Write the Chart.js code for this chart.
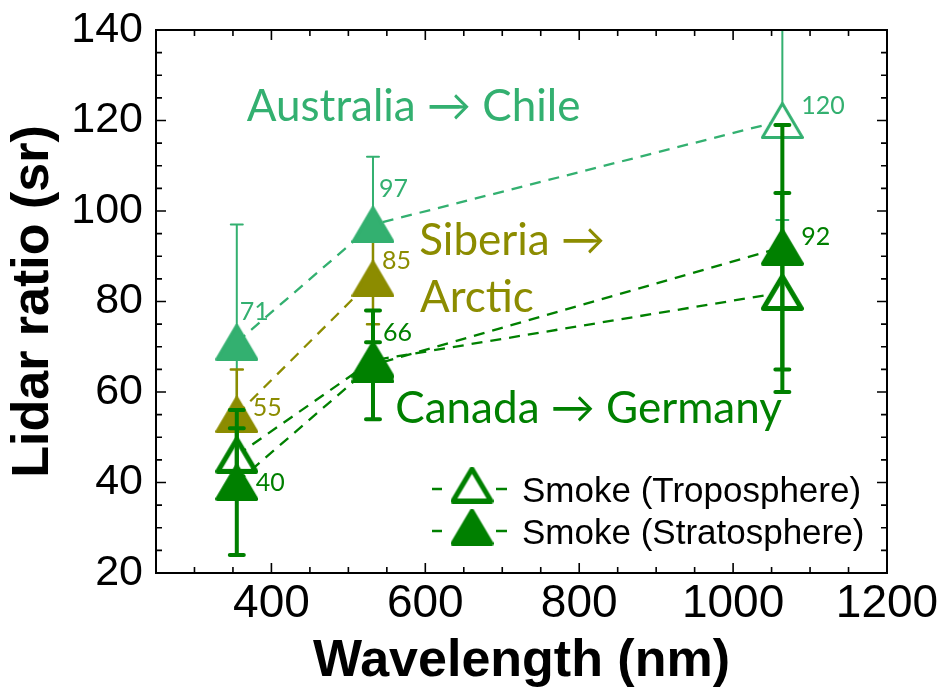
<!DOCTYPE html>
<html>
<head>
<meta charset="utf-8">
<script src="https://cdn.jsdelivr.net/npm/chart.js@4.4.0/dist/chart.umd.min.js"></script>
<style>
  html, body { margin: 0; padding: 0; background: #fff; }
  #wrap { width: 940px; height: 688px; }
</style>
</head>
<body>
<div id="wrap"><canvas id="chart" width="940" height="688"></canvas></div>
<script>
// wavelengths (nm)
const wavelengths = [355, 532, 1064];
const siberiaWavelengths = [355, 532];

// lidar ratios (sr) and their uncertainties
const australiaValues = [71, 97, 120];
const australiaErrors = [26, 15, 22];
const australiaOpen = [false, false, true];

const siberiaValues = [55, 85];
const siberiaErrors = [10, 10];
const siberiaOpen = [false, false];

const canadaStratValues = [40, 66, 92];
const canadaStratErrors = [16, 12, 27];
const canadaStratOpen = [false, false, false];

const canadaTropoValues = [46, 67, 82];
const canadaTropoErrors = [6, 4, 22];
const canadaTropoOpen = [true, true, true];

const xTickValues = [400, 600, 800, 1000, 1200];
const yTickValues = [20, 40, 60, 80, 100, 120, 140];

const legendLabels = ['Smoke (Troposphere)', 'Smoke (Stratosphere)'];

// where the value labels sit, relative to the point (px)
const australiaLabelOffsets = [[3, -30], [6, -36], [19, -15]];
const siberiaLabelOffsets = [[16, -7], [9, -18]];
const canadaStratLabelOffsets = [[19, 0], [10, -32], [19, -10]];

const LIGHT = '#33b070';
const OLIVE = '#8c8c00';
const DARK = '#008000';

const SANS = "'Liberation Sans', Arial, sans-serif";
const SOFT = "Lato, 'Open Sans', sans-serif";

const annotations = [
    { text: 'Australia \u2192 Chile', x: 368, y: 119.9, color: LIGHT },
    { text: 'Siberia \u2192', x: 592, y: 90.3, color: OLIVE },
    { text: 'Arctic', x: 593, y: 77.7, color: OLIVE },
    { text: 'Canada \u2192 Germany', x: 561, y: 53.1, color: DARK }
];

function makeTriangle(color, filled, lw) {
    const c = document.createElement('canvas');
    c.width = 43;
    c.height = 37;
    const ctx = c.getContext('2d');
    const h = lw / 2;
    ctx.beginPath();
    ctx.moveTo(c.width / 2, h);
    ctx.lineTo(c.width - h, c.height - h);
    ctx.lineTo(h, c.height - h);
    ctx.closePath();
    ctx.lineJoin = 'round';
    ctx.lineWidth = lw;
    ctx.fillStyle = filled ? color : '#fff';
    ctx.fill();
    ctx.strokeStyle = color;
    ctx.stroke();
    return c;
}

const series = [
    { xs: wavelengths, ys: australiaValues, err: australiaErrors, open: australiaOpen, color: LIGHT,
      barWidth: 2, cap: 6, marker: 3, onTop: false, order: 4, labels: australiaLabelOffsets },
    { xs: siberiaWavelengths, ys: siberiaValues, err: siberiaErrors, open: siberiaOpen, color: OLIVE,
      barWidth: 2.5, cap: 6, marker: 3, onTop: false, order: 3, labels: siberiaLabelOffsets },
    { xs: wavelengths, ys: canadaTropoValues, err: canadaTropoErrors, open: canadaTropoOpen, color: DARK,
      barWidth: 4, cap: 7, marker: 5, onTop: true, order: 2, labels: null },
    { xs: wavelengths, ys: canadaStratValues, err: canadaStratErrors, open: canadaStratOpen, color: DARK,
      barWidth: 4, cap: 7, marker: 4, onTop: true, order: 1, labels: canadaStratLabelOffsets }
];

function drawBars(chart, i) {
    const s = series[i];
    const { ctx, chartArea: a, scales: { x, y } } = chart;
    ctx.save();
    ctx.beginPath();
    ctx.rect(a.left, a.top, a.right - a.left, a.bottom - a.top);
    ctx.clip();
    ctx.strokeStyle = s.color;
    ctx.lineWidth = s.barWidth;
    ctx.lineCap = 'round';
    s.xs.forEach((wl, j) => {
        const px = x.getPixelForValue(wl);
        const top = y.getPixelForValue(s.ys[j] + s.err[j]);
        const bot = y.getPixelForValue(s.ys[j] - s.err[j]);
        ctx.beginPath();
        ctx.moveTo(px, top); ctx.lineTo(px, bot);
        ctx.moveTo(px - s.cap, top); ctx.lineTo(px + s.cap, top);
        ctx.moveTo(px - s.cap, bot); ctx.lineTo(px + s.cap, bot);
        ctx.stroke();
    });
    ctx.restore();
}

// thin bars go under all markers, the dark ones over their own markers
const errorBars = {
    id: 'errorBars',
    beforeDatasetsDraw(chart) {
        series.forEach((s, i) => { if (!s.onTop) drawBars(chart, i); });
    },
    afterDatasetDraw(chart, args) {
        if (series[args.index].onTop) drawBars(chart, args.index);
    }
};

const frame = {
    id: 'frame',
    afterDraw(chart) {
        const { ctx, chartArea: a, scales: { x, y } } = chart;
        ctx.save();
        ctx.strokeStyle = '#000';
        ctx.lineWidth = 1.6;
        ctx.beginPath();
        for (let v = 300; v < 1200; v += 50) {
            const px = x.getPixelForValue(v);
            const len = v % 200 === 0 ? 10 : 6;
            ctx.moveTo(px, a.bottom); ctx.lineTo(px, a.bottom - len);
            ctx.moveTo(px, a.top); ctx.lineTo(px, a.top + len);
        }
        for (let v = 25; v < 140; v += 5) {
            const py = y.getPixelForValue(v);
            const len = v % 20 === 0 ? 10 : 6;
            ctx.moveTo(a.left, py); ctx.lineTo(a.left + len, py);
            ctx.moveTo(a.right, py); ctx.lineTo(a.right - len, py);
        }
        ctx.stroke();
        ctx.lineWidth = 2;
        ctx.strokeRect(a.left, a.top, a.right - a.left, a.bottom - a.top);
        ctx.restore();
    }
};

const textLayer = {
    id: 'textLayer',
    afterDatasetsDraw(chart) {
        const { ctx, scales: { x, y } } = chart;
        ctx.save();
        ctx.font = '25px ' + SOFT;
        ctx.textAlign = 'left';
        ctx.textBaseline = 'middle';
        series.forEach(s => {
            if (!s.labels) return;
            ctx.fillStyle = s.color;
            s.ys.forEach((v, j) => {
                const px = x.getPixelForValue(s.xs[j]) + s.labels[j][0];
                const py = y.getPixelForValue(v) + s.labels[j][1];
                ctx.fillText(String(v), px, py);
            });
        });
        ctx.font = '44px ' + SOFT;
        ctx.textBaseline = 'alphabetic';
        annotations.forEach(t => {
            ctx.fillStyle = t.color;
            ctx.fillText(t.text, x.getPixelForValue(t.x), y.getPixelForValue(t.y));
        });
        ctx.restore();
    }
};

const legendBox = {
    id: 'legendBox',
    afterDraw(chart) {
        const ctx = chart.ctx;
        const icons = [makeTriangle(DARK, false, 5), makeTriangle(DARK, true, 4)];
        ctx.save();
        legendLabels.forEach((label, i) => {
            const cy = 485 + i * 42;
            ctx.strokeStyle = DARK;
            ctx.lineWidth = 2.3;
            ctx.beginPath();
            ctx.moveTo(432, cy + 4); ctx.lineTo(442, cy + 4);
            ctx.moveTo(496, cy + 4); ctx.lineTo(507, cy + 4);
            ctx.stroke();
            ctx.drawImage(icons[i], 472 - icons[i].width / 2, cy - icons[i].height / 2);
            ctx.fillStyle = '#000';
            ctx.font = '35px ' + SANS;
            ctx.textBaseline = 'alphabetic';
            ctx.fillText(label, 522, cy + 17);
        });
        ctx.restore();
    }
};

new Chart(document.getElementById('chart'), {
    type: 'scatter',
    data: {
        datasets: series.map(s => ({
            data: s.xs.map((wl, j) => ({ x: wl, y: s.ys[j] })),
            showLine: true,
            borderColor: s.color,
            borderWidth: 2.3,
            borderDash: [11, 8],
            pointStyle: s.open.map(o => makeTriangle(s.color, !o, s.marker)),
            pointRadius: 20,
            order: s.order
        }))
    },
    options: {
        responsive: false,
        animation: false,
        layout: { padding: { top: 30, right: 53, left: 0, bottom: 0 } },
        plugins: { legend: { display: false }, tooltip: { enabled: false } },
        scales: {
            x: {
                type: 'linear',
                min: 250,
                max: 1200,
                afterBuildTicks: s => { s.ticks = xTickValues.map(v => ({ value: v })); },
                afterFit: s => { s.height = 115; s.paddingLeft = 0; s.paddingRight = 0; },
                grid: { display: false, drawTicks: false },
                border: { display: false },
                ticks: { color: '#000', font: { family: SANS, size: 46 }, padding: 4, autoSkip: false, maxRotation: 0,
                         callback: v => String(v) },
                title: { display: true, text: 'Wavelength (nm)', color: '#000',
                         font: { family: SANS, size: 52, weight: 'bold' }, padding: { top: 0, bottom: -5 } }
            },
            y: {
                type: 'linear',
                min: 20,
                max: 140,
                afterBuildTicks: s => { s.ticks = yTickValues.map(v => ({ value: v })); },
                afterFit: s => { s.width = 156; s.paddingTop = 0; s.paddingBottom = 0; },
                grid: { display: false, drawTicks: false },
                border: { display: false },
                ticks: { color: '#000', font: { family: SANS, size: 43 }, padding: 13, autoSkip: false },
                title: { display: true, text: 'Lidar ratio (sr)', color: '#000',
                         font: { family: SANS, size: 52, weight: 'bold' }, padding: { top: 2, bottom: 0 } }
            }
        }
    },
    plugins: [errorBars, frame, textLayer, legendBox]
});
</script>
</body>
</html>
